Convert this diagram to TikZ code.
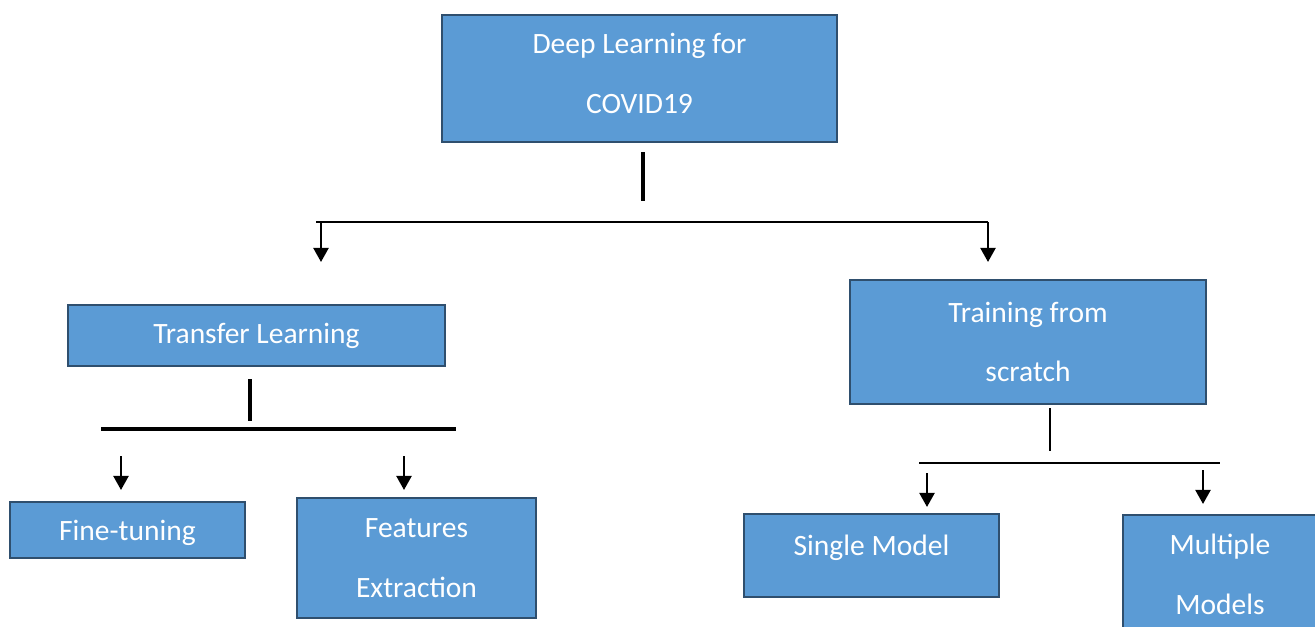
\documentclass[tikz,border=0pt]{standalone}
\usepackage{fontspec}
\setmainfont{Carlito}
\usetikzlibrary{arrows.meta}
\definecolor{boxblue}{HTML}{5B9BD5}
\definecolor{boxedge}{HTML}{2F4F6E}
\begin{document}
\begin{tikzpicture}[x=0.02cm,y=-0.02cm,
	box/.style={draw=boxedge,fill=boxblue,line width=1.1pt,text=white,inner sep=0pt,
		align=center,font=\fontsize{16.8}{34}\selectfont},
	bar/.style={line width=2.1pt},
	link/.style={line width=1.4pt},
	>={Triangle[length=8pt,width=8.5pt]}]
	\useasboundingbox (0,0) rectangle (1315,626);
	\clip (0,0) rectangle (1315,626);
	% các hộp
	\node[box,minimum width=7.9cm,minimum height=2.54cm,text depth=0.2cm] (dl) at (639.5,78.5) {Deep Learning for\\COVID19};
	\node[box,minimum width=7.54cm,minimum height=1.22cm] (tl) at (256.5,335.5) {Transfer Learning};
	\node[box,minimum width=7.12cm,minimum height=2.48cm] (tfs) at (1028,342) {Training from\\scratch};
	\node[box,minimum width=4.7cm,minimum height=1.12cm,text depth=0cm] (ft) at (127.5,530) {Fine-tuning};
	\node[box,minimum width=4.78cm,minimum height=2.4cm] (fe) at (416.5,558) {Features\\Extraction};
	\node[box,minimum width=5.1cm,minimum height=1.66cm,text depth=0.4cm] (sm) at (871.5,555.5) {Single Model};
	\node[box,minimum width=3.88cm,minimum height=2.36cm] (mm) at (1220,574) {Multiple\\Models};
	% nhánh trên
	\coordinate (dl-a) at (643,152);
	\coordinate (dl-b) at (643,201);
	\coordinate (dl-l) at (316,222);
	\coordinate (dl-r) at (988,222);
	\draw[bar] (dl-a)--(dl-b);
	\draw[link] (dl-l)--(dl-r);
	\draw[link,->] (321,222) coordinate (tl-in)--(321,262) coordinate (tl-end);
	\draw[link,->] (dl-r)--(988,262) coordinate (tfs-end);
	% nhánh trái
	\coordinate (tl-a) at (250,379);
	\coordinate (tl-b) at (250,421);
	\coordinate (tl-l) at (101,429);
	\coordinate (tl-r) at (456,429);
	\draw[bar] (tl-a)--(tl-b);
	\draw[bar] (tl-l)--(tl-r);
	\draw[link,->] (121,456) coordinate (ft-in)--(121,490) coordinate (ft-end);
	\draw[link,->] (404,456) coordinate (fe-in)--(404,490) coordinate (fe-end);
	% nhánh phải
	\coordinate (tfs-a) at (1050,408);
	\coordinate (tfs-b) at (1050,451);
	\coordinate (tfs-l) at (919,463);
	\coordinate (tfs-r) at (1220,463);
	\draw[link] (tfs-a)--(tfs-b);
	\draw[link] (tfs-l)--(tfs-r);
	\draw[link,->] (927,473) coordinate (sm-in)--(927,507) coordinate (sm-end);
	\draw[link,->] (1203,470) coordinate (mm-in)--(1203,504) coordinate (mm-end);
\end{tikzpicture}
\end{document}
